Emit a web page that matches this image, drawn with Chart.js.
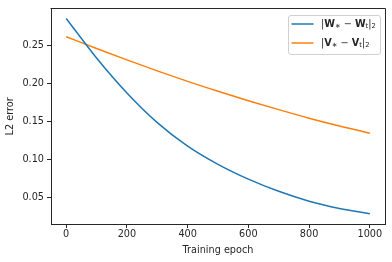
<!DOCTYPE html>
<html>
<head>
<meta charset="utf-8">
<script src="https://cdn.jsdelivr.net/npm/chart.js@4.4.0/dist/chart.umd.min.js"></script>
<style>
  html, body { margin: 0; padding: 0; background: #fff; }
  #wrap { width: 392px; height: 262px; }
</style>
</head>
<body>
<div id="wrap"><canvas id="chart"></canvas></div>
<script>
// values
const epochs = [0, 100, 200, 300, 400, 500, 600, 700, 800, 900, 1000]
const wError = [0.285, 0.233, 0.187, 0.148, 0.117, 0.093, 0.0735, 0.0575, 0.0445, 0.035, 0.028]
const vError = [0.261, 0.2455, 0.2305, 0.216, 0.2022, 0.1892, 0.1768, 0.165, 0.1538, 0.1435, 0.134]
const seriesNames = ["|W∗ − Wt|2", "|V∗ − Vt|2"]
const seriesColors = ["#1f77b4", "#ff7f0e"]
// pieces of each legend label, so subscripts can be drawn smaller
const labelParts = [
    [["|"], ["W", "b"], ["∗", "s"], [" − "], ["W", "b"], ["t", "s"], ["|"], ["2", "s"]],
    [["|"], ["V", "b"], ["∗", "s"], [" − "], ["V", "b"], ["t", "s"], ["|"], ["2", "s"]]
]

const FONT = "DejaVu Sans"
const SIZE = 9.7
const TEXT = "#262626"

Chart.defaults.font.family = FONT
Chart.defaults.font.size = SIZE
Chart.defaults.color = TEXT

function toPoints(ys) {
    return epochs.map((x, i) => ({ x: x, y: ys[i] }))
}

// box round the plot, like matplotlib
const framePlugin = {
    id: "frame",
    afterDraw(chart) {
        const a = chart.chartArea
        const ctx = chart.ctx
        ctx.save()
        ctx.strokeStyle = TEXT
        ctx.lineWidth = 1
        ctx.beginPath()
        ctx.moveTo(Math.round(a.left) - 0.5, Math.round(a.top) - 0.5)
        ctx.lineTo(Math.round(a.right) + 0.5, Math.round(a.top) - 0.5)
        ctx.lineTo(Math.round(a.right) + 0.5, Math.round(a.bottom) + 0.5)
        ctx.stroke()
        ctx.restore()
    }
}

function drawParts(ctx, parts, x, y) {
    parts.forEach(p => {
        const style = p[1] || ""
        let size = SIZE
        let dy = 0
        let weight = "normal"
        if (style === "s") { size = 6.8; dy = 2.6 }
        if (style === "b") weight = "bold"
        ctx.font = weight + " " + size + "px '" + FONT + "'"
        ctx.fillText(p[0], x, y + dy)
        x += ctx.measureText(p[0]).width
    })
    return x
}

// legend drawn by hand, inside the upper right corner
const legendPlugin = {
    id: "mathLegend",
    afterDraw(chart) {
        const a = chart.chartArea
        const ctx = chart.ctx
        const w = 92, h = 39
        const x0 = Math.round(a.right) - 5 - w + 0.5
        const y0 = Math.round(a.top) + 6.5
        ctx.save()
        ctx.beginPath()
        ctx.roundRect(x0, y0, w, h, 2.5)
        ctx.fillStyle = "rgba(255,255,255,0.8)"
        ctx.fill()
        ctx.strokeStyle = "#d0d0d0"
        ctx.lineWidth = 1
        ctx.stroke()
        chart.data.datasets.forEach((ds, i) => {
            const ly = y0 + 8.5 + i * 19
            ctx.strokeStyle = ds.borderColor
            ctx.lineWidth = 1.5
            ctx.beginPath()
            ctx.moveTo(x0 + 3, ly)
            ctx.lineTo(x0 + 25, ly)
            ctx.stroke()
            ctx.fillStyle = TEXT
            ctx.textBaseline = "middle"
            ctx.textAlign = "left"
            drawParts(ctx, labelParts[i], x0 + 32.5, ly)
        })
        ctx.restore()
    }
}

new Chart(document.getElementById("chart"), {
    type: "line",
    data: {
        datasets: [wError, vError].map((ys, i) => ({
            label: seriesNames[i],
            data: toPoints(ys),
            borderColor: seriesColors[i],
            backgroundColor: seriesColors[i],
            borderWidth: 1.5,
            pointRadius: 0,
            cubicInterpolationMode: "monotone",
            fill: false
        }))
    },
    options: {
        responsive: true,
        maintainAspectRatio: false,
        animation: false,
        layout: { padding: { top: 6, right: 7, left: 0, bottom: 0 } },
        plugins: {
            legend: { display: false },
            tooltip: { enabled: false }
        },
        scales: {
            x: {
                type: "linear",
                min: -50,
                max: 1050,
                afterFit: s => { s.height = 38 },
                ticks: { stepSize: 200, includeBounds: false, padding: 1, maxRotation: 0, callback: v => String(v) },
                grid: { drawOnChartArea: false, tickLength: 4, color: TEXT },
                border: { color: TEXT },
                title: { display: true, text: "Training epoch", padding: { top: 0, bottom: 6 } }
            },
            y: {
                min: 0.0145,
                max: 0.2977,
                afterFit: s => { s.width = 51 },
                ticks: { stepSize: 0.05, includeBounds: false, padding: 3, callback: v => v.toFixed(2) },
                grid: { drawOnChartArea: false, tickLength: 4, color: TEXT },
                border: { color: TEXT },
                title: { display: true, text: "L2 error", padding: { top: 5, bottom: 0 } }
            }
        }
    },
    plugins: [framePlugin, legendPlugin]
})
</script>
</body>
</html>
